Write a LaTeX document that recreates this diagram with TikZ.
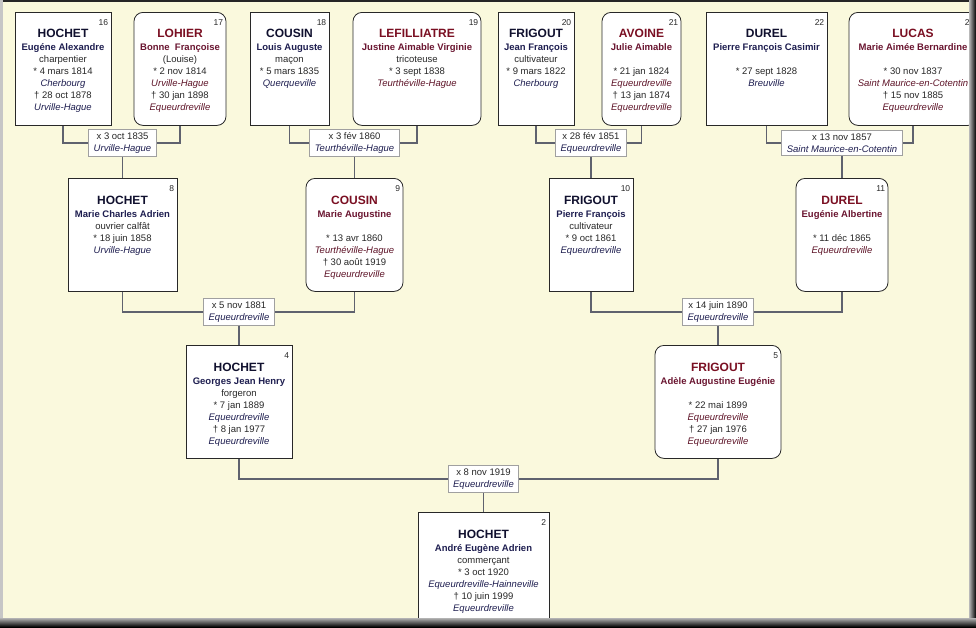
\documentclass[tikz,border=0pt]{standalone}
\usepackage{fontspec}
\setmainfont{Liberation Sans}
\usepackage{xcolor}
\usetikzlibrary{positioning}
\definecolor{bg}{RGB}{250,249,221}
\definecolor{boxline}{RGB}{40,40,40}
\definecolor{linkc}{RGB}{95,98,110}
\definecolor{wedline}{RGB}{160,160,160}
\definecolor{mSur}{RGB}{16,16,46}
\definecolor{mGiv}{RGB}{30,30,80}
\definecolor{mPlace}{RGB}{30,30,80}
\definecolor{fSur}{RGB}{122,15,34}
\definecolor{fGiv}{RGB}{106,21,48}
\definecolor{fPlace}{RGB}{94,20,40}
\definecolor{datec}{RGB}{40,40,40}
\newcommand\sur[1]{{\fontsize{12}{13}\selectfont\bfseries\color{sname}#1}}
\newcommand\giv[1]{{\bfseries\color{gname}#1}}
\newcommand\plc[1]{{\itshape\color{pname}#1}}

\begin{document}
\begin{tikzpicture}[x=1pt,y=-1pt,
  pbox/.style={draw=boxline,fill=white,line width=0.8pt,anchor=north,inner sep=0pt,minimum height=113pt},
  manbox/.style={pbox},
  womanbox/.style={pbox,rounded corners=9pt},
  num/.style={anchor=north east,inner sep=0pt,xshift=-3pt,yshift=-7pt,font=\fontsize{8.5}{9}\selectfont,text=datec},
  ptext/.style={align=center,inner sep=0pt,text=datec,font=\fontsize{9.5}{12}\selectfont},
  mtext/.style={ptext,execute at begin node={\colorlet{sname}{mSur}\colorlet{gname}{mGiv}\colorlet{pname}{mPlace}}},
  wtext/.style={ptext,execute at begin node={\colorlet{sname}{fSur}\colorlet{gname}{fGiv}\colorlet{pname}{fPlace}}},
  wed/.style={draw=wedline,fill=white,line width=0.8pt,align=center,inner xsep=5pt,inner ysep=3pt,
    text=datec,font=\fontsize{9.5}{12}\selectfont,execute at begin node={\colorlet{pname}{mPlace}}},
  link/.style={draw=linkc,line width=1.2pt}]
\useasboundingbox (0,0) rectangle (976,627);
\fill[bg] (0,0) rectangle (976,627);

% generation 4
\node[manbox,minimum width=96pt,label={[num]north east:16}] (p16) at (63,12) {};
\node[womanbox,minimum width=92pt,label={[num]north east:17}] (p17) at (180,12) {};
\node[manbox,minimum width=79pt,label={[num]north east:18}] (p18) at (289.5,12) {};
\node[womanbox,minimum width=128pt,label={[num]north east:19}] (p19) at (417,12) {};
\node[manbox,minimum width=76pt,label={[num]north east:20}] (p20) at (536,12) {};
\node[womanbox,minimum width=79pt,label={[num]north east:21}] (p21) at (641.5,12) {};
\node[manbox,minimum width=121pt,label={[num]north east:22}] (p22) at (766.5,12) {};
\node[womanbox,minimum width=128pt,label={[num]north east:23}] (p23) at (913,12) {};

% generation 3
\node[manbox,minimum width=109pt,label={[num]north east:8}] (p8) at (122.5,178) {};
\node[womanbox,minimum width=97pt,label={[num]north east:9}] (p9) at (354.5,178) {};
\node[manbox,minimum width=84pt,label={[num]north east:10}] (p10) at (591,178) {};
\node[womanbox,minimum width=92pt,label={[num]north east:11}] (p11) at (842,178) {};

% generation 2 and 1
\node[manbox,minimum width=106pt,label={[num]north east:4}] (p4) at (239,345) {};
\node[womanbox,minimum width=126pt,label={[num]north east:5}] (p5) at (718,345) {};
\node[manbox,minimum width=131pt,minimum height=122pt,label={[num]north east:2}] (p2) at (483.5,512) {};

% marriages
\node[wed] (m1) at (122.5,143) {x 3 oct 1835\\ \plc{Urville-Hague}};
\node[wed] (m2) at (354.5,143) {x 3 fév 1860\\ \plc{Teurthéville-Hague}};
\node[wed] (m3) at (591,143) {x 28 fév 1851\\ \plc{Equeurdreville}};
\node[wed] (m4) at (842,143) {x 13 nov 1857\\ \plc{Saint Maurice-en-Cotentin}};
\node[wed] (m5) at (239,312) {x 5 nov 1881\\ \plc{Equeurdreville}};
\node[wed] (m6) at (718,312) {x 14 juin 1890\\ \plc{Equeurdreville}};
\node[wed] (m7) at (483.5,479) {x 8 nov 1919\\ \plc{Equeurdreville}};

\draw[link] (p16.south) |- (m1) (p17.south) |- (m1) (m1) -- (p8);
\draw[link] (p18.south) |- (m2) (p19.south) |- (m2) (m2) -- (p9);
\draw[link] (p20.south) |- (m3) (p21.south) |- (m3) (m3) -- (p10);
\draw[link] (p22.south) |- (m4) (p23.south) |- (m4) (m4) -- (p11);
\draw[link] (p8.south) |- (m5) (p9.south) |- (m5) (m5) -- (p4);
\draw[link] (p10.south) |- (m6) (p11.south) |- (m6) (m6) -- (p5);
\draw[link] (p4.south) |- (m7) (p5.south) |- (m7) (m7) -- (p2);

% texts
\node[mtext,below=17pt of p16.north] (t16) {\sur{HOCHET}\\[1pt] \giv{Eugéne Alexandre}\\ charpentier\\ * 4 mars 1814\\ \plc{Cherbourg}\\ † 28 oct 1878\\ \plc{Urville-Hague}};
\node[wtext,below=17pt of p17.north] (t17) {\sur{LOHIER}\\[1pt] \giv{Bonne\ \ Françoise}\\ (Louise)\\ * 2 nov 1814\\ \plc{Urville-Hague}\\ † 30 jan 1898\\ \plc{Equeurdreville}};
\node[mtext,below=17pt of p18.north] (t18) {\sur{COUSIN}\\[1pt] \giv{Louis Auguste}\\ maçon\\ * 5 mars 1835\\ \plc{Querqueville}};
\node[wtext,below=17pt of p19.north] (t19) {\sur{LEFILLIATRE}\\[1pt] \giv{Justine Aimable Virginie}\\ tricoteuse\\ * 3 sept 1838\\ \plc{Teurthéville-Hague}};
\node[mtext,below=17pt of p20.north] (t20) {\sur{FRIGOUT}\\[1pt] \giv{Jean François}\\ cultivateur\\ * 9 mars 1822\\ \plc{Cherbourg}};
\node[wtext,below=17pt of p21.north] (t21) {\sur{AVOINE}\\[1pt] \giv{Julie Aimable}\\ \\ * 21 jan 1824\\ \plc{Equeurdreville}\\ † 13 jan 1874\\ \plc{Equeurdreville}};
\node[mtext,below=17pt of p22.north] (t22) {\sur{DUREL}\\[1pt] \giv{Pierre François Casimir}\\ \\ * 27 sept 1828\\ \plc{Breuville}};
\node[wtext,below=17pt of p23.north] (t23) {\sur{LUCAS}\\[1pt] \giv{Marie Aimée Bernardine}\\ \\ * 30 nov 1837\\ \plc{Saint Maurice-en-Cotentin}\\ † 15 nov 1885\\ \plc{Equeurdreville}};
\node[mtext,below=18pt of p8.north] (t8) {\sur{HOCHET}\\[1pt] \giv{Marie Charles Adrien}\\ ouvrier calfât\\ * 18 juin 1858\\ \plc{Urville-Hague}};
\node[wtext,below=18pt of p9.north] (t9) {\sur{COUSIN}\\[1pt] \giv{Marie Augustine}\\ \\ * 13 avr 1860\\ \plc{Teurthéville-Hague}\\ † 30 août 1919\\ \plc{Equeurdreville}};
\node[mtext,below=18pt of p10.north] (t10) {\sur{FRIGOUT}\\[1pt] \giv{Pierre François}\\ cultivateur\\ * 9 oct 1861\\ \plc{Equeurdreville}};
\node[wtext,below=18pt of p11.north] (t11) {\sur{DUREL}\\[1pt] \giv{Eugénie Albertine}\\ \\ * 11 déc 1865\\ \plc{Equeurdreville}};
\node[mtext,below=18pt of p4.north] (t4) {\sur{HOCHET}\\[1pt] \giv{Georges Jean Henry}\\ forgeron\\ * 7 jan 1889\\ \plc{Equeurdreville}\\ † 8 jan 1977\\ \plc{Equeurdreville}};
\node[wtext,below=18pt of p5.north] (t5) {\sur{FRIGOUT}\\[1pt] \giv{Adèle Augustine Eugénie}\\ \\ * 22 mai 1899\\ \plc{Equeurdreville}\\ † 27 jan 1976\\ \plc{Equeurdreville}};
\node[mtext,below=18pt of p2.north] (t2) {\sur{HOCHET}\\[1pt] \giv{André Eugène Adrien}\\ commerçant\\ * 3 oct 1920\\ \plc{Equeurdreville-Hainneville}\\ † 10 juin 1999\\ \plc{Equeurdreville}};

% frame
\fill[black!85] (0,0) rectangle (976,2);
\fill[gray!45] (0,0) rectangle (3,627);
\shade[left color=gray!55,right color=black] (969,0) rectangle (976,627);
\shade[top color=gray!60,bottom color=black] (0,618) rectangle (976,627);
\end{tikzpicture}
\end{document}
